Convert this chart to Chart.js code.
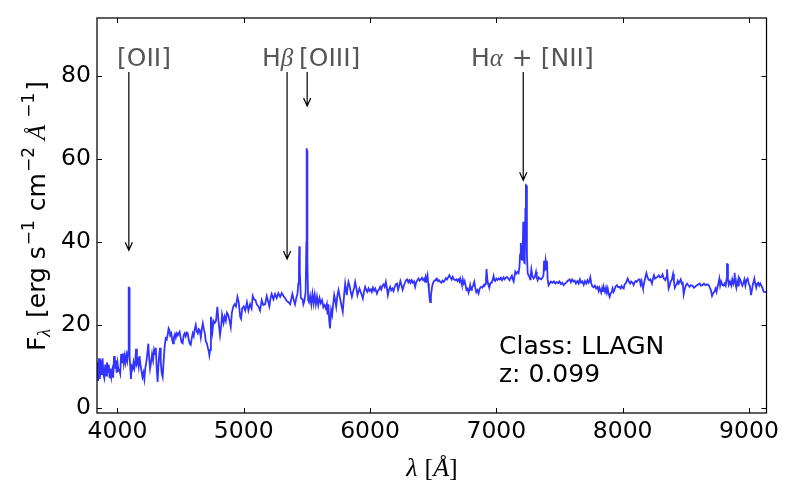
<!DOCTYPE html>
<html><head><meta charset="utf-8">
<style>html,body{margin:0;padding:0;background:#fff}#w{width:800px;height:500px;position:relative}</style>
<script src="https://cdn.jsdelivr.net/npm/chart.js@4"></script>
</head><body><div id="w"><canvas id="c" width="800" height="500"></canvas></div>
<script>
const waveUv = [
3840,3847,3854,3861,3868,3875,3882,3889,3896,3903,
3910,3917,3924,3931,3938,3945,3952,3959,3966,3973,
3980,3987,3994,4001,4008,4015,4022,4029,4036,4043,
4050,4057,4064,4071,4078,4084,4088,4090,4092,4096,
4102,4107,4113,4120,4127,4134,4140,4147,4154,4161,
4168,4175,4182,4190,4198,4206,4213,4220,4228,4236,
4244,4250,4258,4266,4274,4282,4290,4298,4304,4311,
4318,4324,4331,4337,4343,4350,4358,4365,4374,4382];
const fluxUv = [
11,6.5,12,7,11.5,8,12,8,7.2,10.5,
7.8,11,8.5,10.5,7.2,9.5,7.5,9,7.3,12.5,
9.5,11.5,8.5,10.8,9,9.2,8.3,13,11,13.2,
10.8,12.5,11,12.8,11.5,13.5,14,29,29,12.5,
9.5,7,10,9.5,11,9.6,10.5,14.3,10.8,11.5,
10,12.5,10.5,9,7.5,8.5,7,9.5,11,13,
15.5,12.5,9.5,11,13,11.5,14,13,14.5,9.5,
6.3,10,13,14.5,11,8.5,7.5,11,15,16.8];
const waveBlue = [
4390,4398,4405,4411,4418,4426,4433,4440,4447,4455,
4462,4470,4478,4485,4492,4500,4508,4516,4524,4532,
4540,4548,4556,4564,4572,4580,4588,4596,4604,4612,
4620,4628,4636,4644,4652,4660,4668,4676,4684,4692,
4700,4708,4716,4724,4728,4734,4740,4746,4752,4760,
4770,4780,4791,4800,4812,4822,4828,4840,4848,4858,
4866,4876,4888,4897,4906,4918,4928,4938,4950,4960,
4972,4979,4988,5000,5012,5025,5037,5050,5062,5071,
5082,5093,5103,5116,5129,5142,5155,5169,5182,5192,
5203,5212,5221,5235,5248,5261,5274,5288,5301,5314,
5327,5340,5354,5367,5376,5385,5396,5406,5416,5425];
const fluxBlue = [
16.5,17.7,19.2,18.8,17.5,18,16.5,15.6,17,17.8,
17,18,17.5,18,18.4,17,15.8,15.6,17.5,18,
17.3,18.2,18,16.5,15.5,15.2,16.8,18,17.3,19,
20,18.5,18,19,18.7,17,19,20.4,19,18,
16,15.6,14.5,13.5,12.7,14,22,20,18.4,21,
20.5,21,24.4,21,17.6,20,22.5,20.5,22,21,
23,22.5,21,19.5,23,24.5,25,24.5,26.8,25.5,
22,21.5,24,24.5,23.5,25.5,23.5,25,24,27,
26.2,26,25,24.5,23.5,26,24.8,25,27,25.8,
24.5,26.5,27.5,26.2,27.5,26.5,27.7,26.8,27.7,27,
26.5,25.8,25.5,25,26.2,27.5,26,25,26.5,27.5];
const waveGreen = [
5432,5437,5440,5444,5452,5465,5472,5480,5490,5496,
5498,5501,5504,5510,5517,5526,5535,5544,5553,5562,
5571,5580,5590,5600,5610,5620,5630,5640,5650,5658,
5664,5670,5677,5683,5692,5700,5708,5716,5724,5732,
5741,5750,5756,5763,5772,5784,5794,5803,5810,5816,
5822,5829,5838,5847,5856,5865,5874,5882,5891,5900,
5908,5916,5925,5934,5943,5952,5961,5970,5979,5988,
5997,6006,6014,6023,6032,6041,6054,6063,6072,6080,
6089,6098,6107,6116,6125,6133,6141,6150,6159,6168,
6177,6186,6195,6204,6213,6222,6231,6240,6249,6258,
6267,6276,6285,6294,6303,6312,6321,6330,6339,6348,
6357,6366,6375,6384,6393,6402,6411,6420,6429,6436,
6442,6448,6455,6461,6466,6471,6476,6482,6490,6497,
6506,6515,6522,6529,6538,6547,6556,6565,6574,6583,
6592,6601,6610,6619,6628,6637,6646,6655,6664,6675];
const fluxGreen = [
30,35,39,33,26.5,26.2,25,25.8,28,40,
62.6,62,35,26,25.5,27,25,27.5,25.2,27.3,
25,26.8,24.8,26.5,25.3,26,24.3,24.8,24,25,
22.5,25,21,19.2,23.6,22.5,25,27.2,26,24.4,
27,28.4,27.5,26.4,25,23.2,27,30,28.5,27.2,
29,30.4,29.5,28,26.8,28,29,30.4,29,27.2,
28,28.8,28,27.3,26.4,28,29.2,28.5,28,28.8,
28.2,28.6,28,29,28.3,28.8,27.6,28.3,28.6,29.2,
28.6,29.5,29.8,29.2,30.4,29,27.2,28.5,29.2,28.4,
28.8,28.2,29.2,29.8,30,28.5,29.5,30.6,29.6,28.5,
29.4,30.2,30.8,31,30.3,30.8,30.2,30.8,30.2,30.5,
29.2,30.4,30.8,31.2,30.7,31,31.4,30.8,31.2,30.4,
31.5,31,32,30,28.5,26.5,25.5,27,29,30,
30.6,30.8,31,31.2,30.6,30.8,30.4,30.2,30.7,30.4,
30.8,31.3,31,31.5,32,31.5,31,31.6,31,30.8];
const waveRed = [
6684,6692,6701,6708,6714,6721,6727,6734,6741,6749,
6756,6763,6772,6780,6787,6793,6800,6807,6816,6825,
6833,6841,6850,6859,6868,6878,6889,6899,6906,6912,
6918,6922,6925,6929,6934,6941,6946,6952,6958,6965,
6971,6978,6984,6991,7000,7009,7018,7027,7036,7045,
7057,7066,7075,7084,7095,7105,7114,7123,7130,7137,
7143,7150,7158,7168,7176,7183,7188,7192,7195,7199,
7204,7209,7213,7217,7221,7225,7230,7234,7238,7242,
7248,7254,7261,7268,7272,7277,7284,7295,7305,7314,
7320,7327,7336,7345,7355,7365,7373,7378,7382,7390,
7397,7401,7406,7414,7422,7432,7445,7456,7467,7478,
7490,7500,7511,7522,7533,7544,7555,7566,7580,7590,
7600,7610,7620,7630,7642,7652,7662,7672,7682,7692,
7702,7712,7722,7730,7737,7744,7752,7760,7770,7780,
7790,7800,7810,7816,7823,7830,7838,7846,7852,7860,
7868,7875,7882,7890,7897,7905,7913,7920,7928,7936,
7944,7955,7964,7974,7984,7992,8000,8008,8016,8024];
const fluxRed = [
31,30.6,31,30.5,31.2,30.4,29.7,31,30,30.6,
29.6,28.5,28.8,27.8,28.6,29.6,28.5,29,29.5,30.4,
29,27.9,28.4,27.6,28.8,29.2,29,29.6,29.4,29.9,
31,33.5,33.5,31,30,29.3,29.2,30,30.2,30.5,
30.9,31.8,30.8,30.6,31.2,30.9,31.2,31,31.4,30.8,
31.5,31,31.4,31.6,31.2,30.8,31.4,31.9,31,30.5,
31.7,32.9,32.4,32.8,32.5,34,37,39.8,39.8,36,
35.7,38,44.9,38,35,34.9,48,53.7,53.6,37,
32.5,32,31.7,31,32,33.4,32,31.2,31.6,32.8,
31.5,30.8,31.5,31.2,31,31.4,32,35.5,33,35.5,
33.5,35.5,31,29.6,30,30.5,30.2,30.5,30,30.4,
30.1,30.5,29.9,30.2,29.6,30,30.3,30.7,31,30.3,
31,30.5,30.7,30,30.6,30,31,30.2,30.5,29.7,
30.6,30,30.8,30.2,30.6,31.5,30,29.3,29.1,29.5,
28.8,29.2,28.2,29,28.5,27.8,29,28.2,28.9,28,
29,27.8,28.8,27.5,26.8,27.6,27.9,28.8,28,28.6,
29.3,29.6,29.1,29.2,28.8,29.4,29,28.8,29.8,30];
const waveIr = [
8032,8040,8050,8060,8068,8078,8087,8095,8104,8112,
8120,8128,8135,8142,8150,8155,8161,8170,8180,8188,
8196,8204,8212,8220,8232,8240,8248,8256,8266,8276,
8286,8296,8306,8316,8326,8338,8345,8351,8358,8364,
8372,8380,8390,8399,8406,8413,8420,8428,8436,8444,
8452,8460,8468,8476,8483,8490,8500,8510,8520,8530,
8540,8552,8564,8576,8588,8600,8610,8620,8632,8644,
8656,8668,8681,8690,8698,8704,8708,8716,8726,8736,
8744,8750,8758,8766,8772,8780,8790,8800,8808,8816,
8822,8826,8829,8834,8840,8850,8860,8868,8876,8882,
8887,8892,8900,8906,8914,8920,8930,8940,8948,8956,
8964,8972,8980,8990,8998,9006,9012,9016,9024,9032,
9038,9043,9050,9058,9066,9074,9082,9090,9098,9106,
9117,9128,9139];
const fluxIr = [
30.6,31.2,30.4,30,30.5,30.2,29.6,30.3,30.6,30.4,
30.8,31,31,29.8,30.6,29.5,28.8,30.2,31.5,32.5,
31.6,31,30.8,31,30,31.2,32,31.2,31.4,31.6,
32,31.5,31.6,32.2,31.2,30.8,31.5,33.4,31,28.8,
29.5,30.5,31,32.3,30.5,29,29.5,29.8,30.6,30,
30.5,31,30,30.2,27.4,28.5,29.5,30,29.6,29.2,
29.6,29.5,29,29.3,29.6,29.8,30,29.5,29.6,30,
29.6,29.8,29.6,29,28.5,27.6,27,27.6,28,28.8,
28,29,30,31.2,29.5,30.5,29.7,29.5,30,29.5,
31,34.7,34.7,31,29.7,30.5,29.5,31,30,31,
32.6,30,29,30.5,29.5,31.5,31,30,29.5,30.2,
31,29.5,30.8,31.2,30,29.5,28.5,27.2,28.5,30,
30.5,31.2,30,29,30,30.2,29.5,30,29.5,29,
28,28,28];
const xTicks = [4000,5000,6000,7000,8000,9000];
const yTicks = [0,20,40,60,80];
const lineNames = [["[OII]"],["H","β"],["[OIII]"],["H","α"," + [NII]"]];
const lineWave = [4090,5343,5502,7213];
const arrowTips = [38,35.9,72.8,54.9];
const arrowTail = 81;
const infoLines = ["Class: LLAGN","z: 0.099"];

const wave = [...waveUv,...waveBlue,...waveGreen,...waveRed,...waveIr];
const flux = [...fluxUv,...fluxBlue,...fluxGreen,...fluxRed,...fluxIr];
const SANS = '"DejaVu Sans"';
const MATH = 'italic 25px "Liberation Serif"';
const BODY = '25px '+SANS;
const SMALL = '17px '+SANS;
const SUBM = 'italic 18px "Liberation Serif"';
const SERIF = '26px "Liberation Serif"';
const MATHX = 'italic 26px "Liberation Serif"';

function widthOf(ctx,segs){let w=0;for(const s of segs){ctx.font=s.f;w+=ctx.measureText(s.t).width+(s.g||0);}return w;}
function drawSegs(ctx,segs,x,y,color){ctx.fillStyle=color;ctx.textBaseline='alphabetic';ctx.textAlign='left';
  for(const s of segs){ctx.font=s.f;ctx.fillText(s.t,x,y+(s.d||0));x+=ctx.measureText(s.t).width+(s.g||0);}}
function noPad(s){s.paddingTop=0;s.paddingBottom=0;s.paddingLeft=0;s.paddingRight=0;}

const decor = {id:'decor',
 afterDraw(chart){
  const {ctx,chartArea:a,scales:{x,y}}=chart;
  ctx.save();
  ctx.strokeStyle='#000';ctx.lineWidth=1;
  ctx.beginPath();
  for(const v of xTicks){const p=Math.round(x.getPixelForValue(v))+.5;ctx.moveTo(p,a.bottom);ctx.lineTo(p,a.bottom-5);ctx.moveTo(p,a.top);ctx.lineTo(p,a.top+5);}
  for(const v of yTicks){const p=Math.round(y.getPixelForValue(v))+.5;ctx.moveTo(a.left,p);ctx.lineTo(a.left+5,p);ctx.moveTo(a.right,p);ctx.lineTo(a.right-5,p);}
  ctx.stroke();
  ctx.lineWidth=1.25;ctx.strokeRect(a.left,a.top,a.right-a.left,a.bottom-a.top);
  ctx.lineWidth=1.2;
  lineWave.forEach((w,i)=>{
    const px=x.getPixelForValue(w),p0=y.getPixelForValue(arrowTail),p1=y.getPixelForValue(arrowTips[i]);
    ctx.beginPath();ctx.moveTo(px,p0);ctx.lineTo(px,p1);
    ctx.moveTo(px-3.6,p1-8);ctx.lineTo(px,p1);ctx.lineTo(px+3.6,p1-8);ctx.stroke();
  });
  const G='#555555';
  drawSegs(ctx,[{t:lineNames[0][0],f:BODY}],117,66,G);
  drawSegs(ctx,[{t:lineNames[1][0],f:BODY},{t:lineNames[1][1],f:MATH}],262,66,G);
  drawSegs(ctx,[{t:lineNames[2][0],f:BODY}],299,66,G);
  drawSegs(ctx,[{t:lineNames[3][0],f:BODY},{t:lineNames[3][1],f:MATH,g:1},{t:lineNames[3][2],f:BODY}],471,66,G);
  ctx.fillStyle='#000';ctx.font=BODY;ctx.textAlign='left';ctx.textBaseline='alphabetic';
  ctx.fillText(infoLines[0],499,354);ctx.fillText(infoLines[1],499,382);
  const xt=[{t:'λ',f:MATHX,g:7},{t:'[',f:SERIF},{t:'Å',f:MATHX},{t:']',f:SERIF}];
  drawSegs(ctx,xt,432-widthOf(ctx,xt)/2,476,'#000');
  const yt=[{t:'F',f:BODY},{t:'λ',f:SUBM,d:5,g:3},{t:' [erg s',f:BODY,g:1},{t:'−1',f:SMALL,d:-11,g:1},{t:' cm',f:BODY,g:1},{t:'−2',f:SMALL,d:-11,g:7},{t:'Å',f:MATH,g:7},{t:'−1',f:SMALL,d:-11,g:2},{t:']',f:BODY}];
  ctx.translate(45,216);ctx.rotate(-Math.PI/2);
  drawSegs(ctx,yt,-widthOf(ctx,yt)/2,0,'#000');
  ctx.restore();
 }};

new Chart(document.getElementById('c'),{
 type:'line',
 data:{datasets:[{data:wave.map((w,i)=>({x:w,y:flux[i]})),borderColor:'rgba(0,0,255,0.8)',borderWidth:1.8,pointRadius:0,tension:0,fill:false}]},
 options:{responsive:false,animation:false,
  layout:{padding:{left:0,right:33.5,top:18,bottom:0}},
  plugins:{legend:{display:false},tooltip:{enabled:false}},
  scales:{
   x:{type:'linear',min:3838,max:9139,
      afterBuildTicks:s=>{s.ticks=xTicks.map(v=>({value:v}));},
      afterFit:s=>{s.height=87;noPad(s);},
      grid:{display:false,drawTicks:false},border:{display:false},
      ticks:{autoSkip:false,maxRotation:0,minRotation:0,padding:5,color:'#000',font:{family:'DejaVu Sans',size:23.5},callback:v=>String(v)}},
   y:{type:'linear',min:-1.2,max:94,
      afterBuildTicks:s=>{s.ticks=yTicks.map(v=>({value:v}));},
      afterFit:s=>{s.width=97;noPad(s);},
      grid:{display:false,drawTicks:false},border:{display:false},
      ticks:{autoSkip:false,padding:6,color:'#000',font:{family:'DejaVu Sans',size:23.5},callback:v=>String(v)}}
  }},
 plugins:[decor]
});
</script></body></html>
